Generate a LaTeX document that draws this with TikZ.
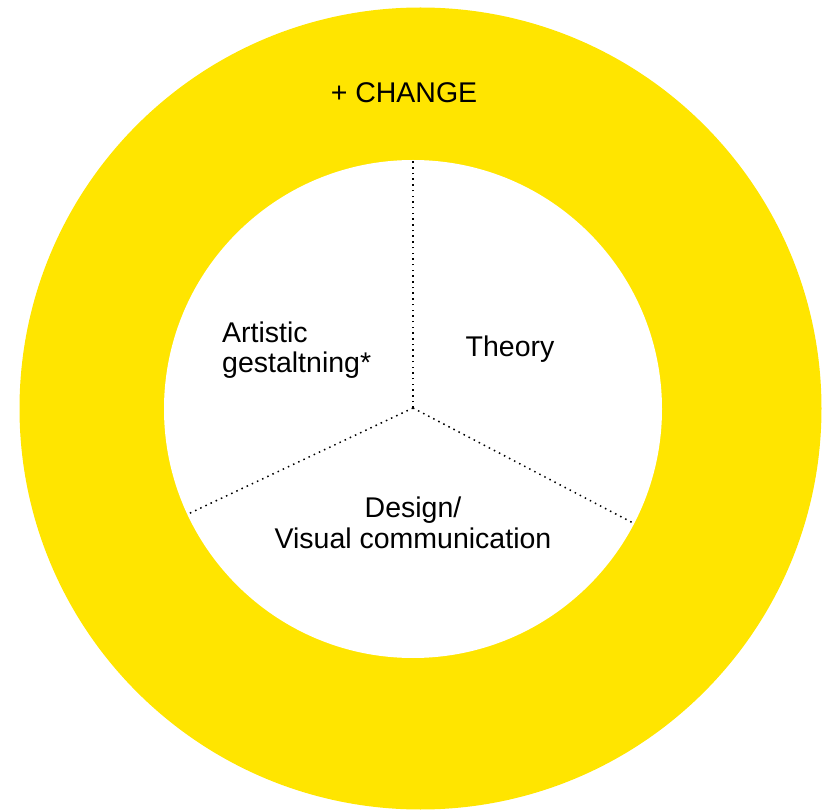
\documentclass[tikz,border=0pt]{standalone}
\usepackage{fontspec}
\setmainfont{Liberation Sans}
\definecolor{ringyellow}{RGB}{255,229,0}

\begin{document}
\begin{tikzpicture}[x=1pt,y=-1pt,
    label text/.style={font=\fontsize{28.5}{30.5}\selectfont, inner sep=0pt},
    divider/.style={black, line width=1.5pt, dash pattern=on 1.5pt off 4.2pt}]
    \useasboundingbox (0,0) rectangle (823,810);
    % ring
    \fill[ringyellow] (420.5,408.5) circle (401);
    \fill[white] (413,409) circle (249);
    % dividers
    \coordinate (hub) at (413,408);
    \coordinate (top) at (413,161);
    \coordinate (lowleft) at (188,514);
    \coordinate (lowright) at (635,524);
    \draw[divider] (hub)--(top);
    \draw[divider] (hub)--(lowleft);
    \draw[divider] (hub)--(lowright);
    % labels
    \node[label text] (change) at (404,93) {+ CHANGE};
    \node[label text, align=left, anchor=west] (artistic) at (222,350) {Artistic\\gestaltning*};
    \node[label text] (theory) at (510,349) {Theory};
    \node[label text, align=center] (design) at (413,523) {Design/\\Visual communication};
\end{tikzpicture}
\end{document}
